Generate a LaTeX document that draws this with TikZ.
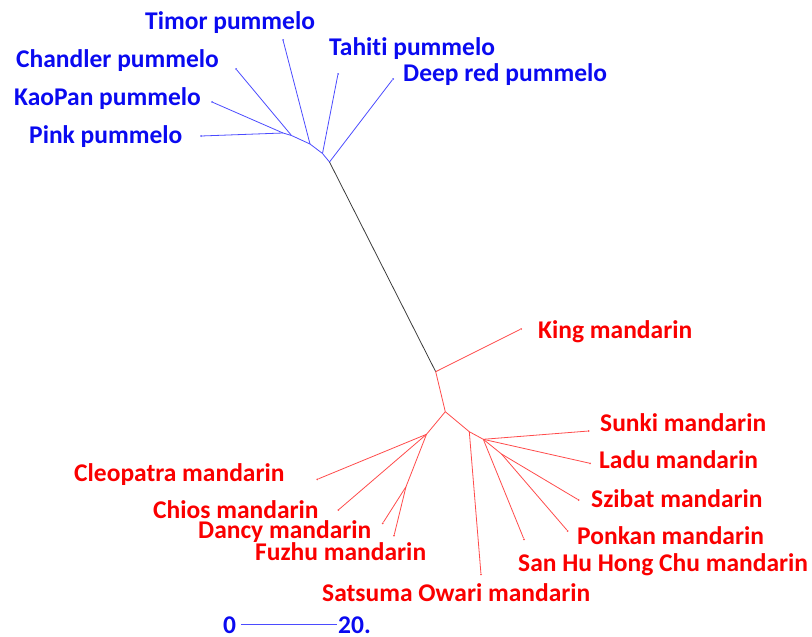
\documentclass[tikz,border=0pt]{standalone}
\usepackage{fontspec}
\setmainfont{Carlito}[Ligatures=NoCommon]
\definecolor{pumtext}{RGB}{10,10,240}
\definecolor{pumline}{RGB}{75,75,255}
\definecolor{mantext}{RGB}{250,0,0}
\definecolor{manline}{RGB}{255,75,75}
\definecolor{stemline}{RGB}{60,60,60}
\begin{document}
\begin{tikzpicture}[x=1pt,y=-1pt]
	\tikzstyle{leaf} = [circle,fill,inner sep=0,minimum size=2pt]
	\tikzstyle{lab} = [anchor=base west,inner sep=0,font=\fontsize{25.5}{30}\selectfont\bfseries]
	\tikzstyle{pum} = [color=pumline,line width=0.8pt]
	\tikzstyle{man} = [color=manline,line width=0.8pt]
	\useasboundingbox (0,0) rectangle (812,637);

	% pummelo clade
	\coordinate (p0) at (283,133);
	\coordinate (p1) at (291.5,135.5);
	\coordinate (p2) at (310,144);
	\coordinate (p3) at (322.5,153.5);
	\coordinate (p4) at (329.5,162);
	\node[leaf,pumline] (pink) at (201,136) {};
	\node[leaf,pumline] (kaopan) at (212,102) {};
	\node[leaf,pumline] (chandler) at (236,69) {};
	\node[leaf,pumline] (timor) at (283,40) {};
	\node[leaf,pumline] (tahiti) at (338,74) {};
	\node[leaf,pumline] (deepred) at (393,79) {};

	\path[pum] (p0) edge (pink) edge (kaopan) edge (p1);
	\path[pum] (p1) edge (chandler) edge (p2);
	\path[pum] (p2) edge (timor) edge (p3);
	\path[pum] (p3) edge (tahiti) edge (p4);
	\path[pum] (p4) edge (deepred);

	\node[lab,pumtext] (timorl) at (145,29.5) {Timor pummelo};
	\node[lab,pumtext] (tahitil) at (329,55) {Tahiti pummelo};
	\node[lab,pumtext] (chandlerl) at (16,67) {Chandler pummelo};
	\node[lab,pumtext] (deepredl) at (403,81) {Deep red pummelo};
	\node[lab,pumtext] (kaopanl) at (14,105) {KaoPan pummelo};
	\node[lab,pumtext] (pinkl) at (29,143.3) {Pink pummelo};

	% mandarin clade
	\coordinate (m0) at (435.7,371.7);
	\coordinate (m1) at (445.3,411.7);
	\coordinate (m2) at (426.5,434.3);
	\coordinate (m3) at (406,486.7);
	\coordinate (m4) at (469.3,431.7);
	\coordinate (m5) at (483.3,439.3);
	\coordinate (m6) at (501.5,454);
	\node[leaf,manline] (king) at (521,329) {};
	\node[leaf,manline] (cleo) at (317.3,479.3) {};
	\node[leaf,manline] (chios) at (338.3,510) {};
	\node[leaf,manline] (dancy) at (382.7,523.3) {};
	\node[leaf,manline] (fuzhu) at (394,535.7) {};
	\node[leaf,manline] (satsuma) at (481,574.3) {};
	\node[leaf,manline] (sunki) at (588.7,431) {};
	\node[leaf,manline] (ladu) at (590,463.3) {};
	\node[leaf,manline] (sanhu) at (524,539.3) {};
	\node[leaf,manline] (szibat) at (578.7,500) {};
	\node[leaf,manline] (ponkan) at (567.7,531) {};

	\path[color=stemline,line width=0.8pt] (p4) edge (m0);
	\path[man] (m0) edge (king) edge (m1);
	\path[man] (m1) edge (m2) edge (m4);
	\path[man] (m2) edge (cleo) edge (chios) edge (m3);
	\path[man] (m3) edge (dancy) edge (fuzhu);
	\path[man] (m4) edge (satsuma) edge (m5);
	\path[man] (m5) edge (sunki) edge (ladu) edge (sanhu) edge (m6);
	\path[man] (m6) edge (szibat) edge (ponkan);

	\node[lab,mantext] (kingl) at (538,338) {King mandarin};
	\node[lab,mantext] (sunkil) at (600,431.7) {Sunki mandarin};
	\node[lab,mantext] (ladul) at (599,468.3) {Ladu mandarin};
	\node[lab,mantext] (cleol) at (74,481) {Cleopatra mandarin};
	\node[lab,mantext] (szibatl) at (591,507.3) {Szibat mandarin};
	\node[lab,mantext] (chiosl) at (153,518.3) {Chios mandarin};
	\node[lab,mantext] (dancyl) at (198,538.3) {Dancy mandarin};
	\node[lab,mantext] (ponkanl) at (577,544.3) {Ponkan mandarin};
	\node[lab,mantext] (fuzhul) at (255,560) {Fuzhu mandarin};
	\node[lab,mantext] (sanhul) at (518,571.7) {San Hu Hong Chu mandarin};
	\node[lab,mantext] (satsumal) at (322,601.5) {Satsuma Owari mandarin};

	% scale bar
	\node[lab,pumtext] (s0) at (223,633) {0};
	\node[lab,pumtext] (s20) at (338,633) {20.};
	\path[pum] ([xshift=5pt]s0.east) edge ([xshift=-1pt]s20.west);
\end{tikzpicture}
\end{document}
